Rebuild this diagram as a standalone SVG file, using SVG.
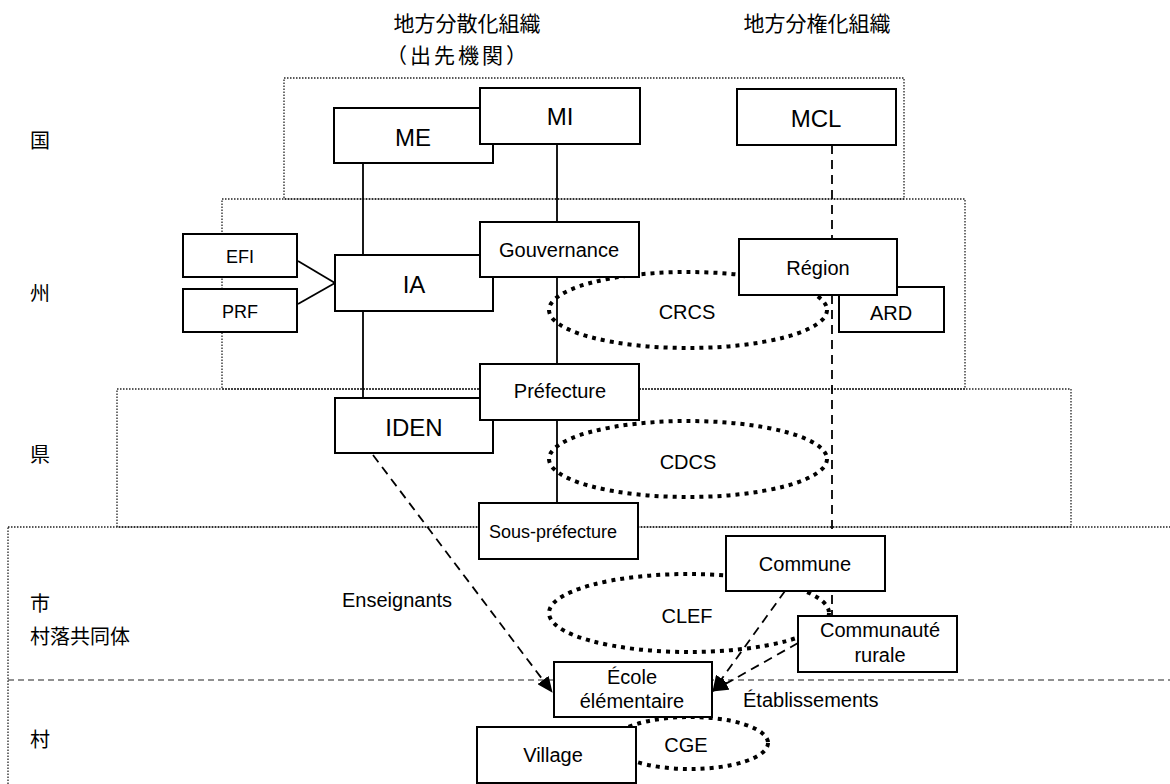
<svg xmlns="http://www.w3.org/2000/svg" width="1170" height="784" viewBox="0 0 1170 784">
<style>
.bg{fill:#fff}
.zone{fill:none;stroke:#222;stroke-width:1.3;stroke-dasharray:1.5 1.5}
.sep{fill:none;stroke:#222;stroke-width:1.2;stroke-dasharray:6 4}
.box{fill:#fff;stroke:#000;stroke-width:2}
.ell{fill:none;stroke:#000;stroke-width:4;stroke-dasharray:4 5}
.line{fill:none;stroke:#000;stroke-width:1.8}
.dash{fill:none;stroke:#000;stroke-width:1.8;stroke-dasharray:9 6}
.t{font-family:"Liberation Sans",Arial,sans-serif;fill:#000;text-anchor:middle}
.l{font-size:24px}
.m{font-size:20px}
.s{font-size:18px}
.jp{font-family:"Noto Sans CJK JP","Noto Sans CJK SC",sans-serif;font-size:20px;fill:#000;dominant-baseline:central}
.hd{font-size:21px;text-anchor:middle}
</style>
<defs>
<marker id="arr" markerUnits="userSpaceOnUse" markerWidth="16" markerHeight="14" refX="15" refY="7" orient="auto">
<path d="M0,0 L16,7 L0,14 Z" fill="#000"/>
</marker>
</defs>
<rect class="bg" x="0" y="0" width="1170" height="784"/>

<g id="zones">
<rect class="zone" x="284" y="78" width="620" height="121"/>
<rect class="zone" x="222" y="199" width="743" height="190"/>
<rect class="zone" x="117" y="389" width="954" height="138"/>
<rect class="zone" x="8" y="527" width="1180" height="300"/>
<line class="sep" x1="8" y1="680" x2="1170" y2="680"/>
</g>

<g id="headers">
<text class="jp hd" x="467" y="22">地方分散化組織</text>
<text class="jp hd" x="458" y="54" letter-spacing="3">（出先機関）</text>
<text class="jp hd" x="817" y="22">地方分権化組織</text>
</g>

<g id="levels">
<text class="jp" x="30" y="139">国</text>
<text class="jp" x="30" y="292">州</text>
<text class="jp" x="30" y="453">県</text>
<text class="jp" x="30" y="602">市</text>
<text class="jp" x="30" y="635">村落共同体</text>
<text class="jp" x="30" y="738">村</text>
</g>

<g id="groups">
<ellipse id="CRCS" class="ell" cx="688" cy="310" rx="139" ry="38"/>
<ellipse id="CDCS" class="ell" cx="688" cy="459" rx="139" ry="38"/>
<ellipse id="CLEF" class="ell" cx="689" cy="613" rx="140" ry="39"/>
<ellipse id="CGE" class="ell" cx="690" cy="743" rx="78" ry="26"/>
</g>

<g id="connectors">
<line class="line" x1="363" y1="163" x2="363" y2="398"/>
<line class="line" x1="557" y1="144" x2="557" y2="503"/>
<line class="line" x1="298" y1="261" x2="335" y2="283"/>
<line class="line" x1="298" y1="304" x2="335" y2="283"/>
<line class="dash" x1="832" y1="145" x2="832" y2="616"/>
<line class="dash" x1="373" y1="455" x2="552" y2="692" marker-end="url(#arr)"/>
<line class="dash" x1="785" y1="591" x2="713" y2="691" marker-end="url(#arr)"/>
<line class="dash" x1="798" y1="643" x2="713" y2="691" marker-end="url(#arr)"/>
</g>

<g id="labels-groups">
<text class="t m" x="687" y="319">CRCS</text>
<text class="t m" x="688" y="469">CDCS</text>
<text class="t m" x="687" y="623">CLEF</text>
<text class="t m" x="686" y="752">CGE</text>
<text class="t m" x="342" y="607" style="text-anchor:start">Enseignants</text>
<text class="t m" x="743" y="707" style="text-anchor:start">Établissements</text>
</g>

<g id="ME"><rect class="box" x="334" y="108" width="159" height="55"/><text class="t l" x="413" y="146">ME</text></g>
<g id="MI"><rect class="box" x="480" y="88" width="160" height="56"/><text class="t l" x="560" y="125">MI</text></g>
<g id="MCL"><rect class="box" x="737" y="89" width="159" height="56"/><text class="t l" x="816" y="127">MCL</text></g>
<g id="EFI"><rect class="box" x="183" y="234" width="114" height="43"/><text class="t s" x="240" y="263">EFI</text></g>
<g id="PRF"><rect class="box" x="183" y="289" width="114" height="43"/><text class="t s" x="240" y="318">PRF</text></g>
<g id="IA"><rect class="box" x="335" y="255" width="158" height="56"/><text class="t l" x="414" y="293">IA</text></g>
<g id="Gouvernance"><rect class="box" x="480" y="222" width="159" height="55"/><text class="t m" x="559" y="257">Gouvernance</text></g>
<g id="ARD"><rect class="box" x="839" y="287" width="105" height="45"/><text class="t m" x="891" y="320">ARD</text></g>
<g id="Region"><rect class="box" x="739" y="239" width="158" height="56"/><text class="t m" x="818" y="275">Région</text></g>
<g id="IDEN"><rect class="box" x="335" y="398" width="158" height="55"/><text class="t l" x="414" y="436">IDEN</text></g>
<g id="Prefecture"><rect class="box" x="480" y="364" width="159" height="56"/><text class="t m" x="560" y="398">Préfecture</text></g>
<g id="SousPrefecture"><rect class="box" x="479" y="503" width="159" height="56"/><text class="t s" x="553" y="538">Sous-préfecture</text></g>
<g id="Commune"><rect class="box" x="726" y="536" width="159" height="55"/><text class="t m" x="805" y="571">Commune</text></g>
<g id="CommunauteRurale"><rect class="box" x="798" y="616" width="159" height="56"/><text class="t m" x="880" y="637">Communauté</text><text class="t m" x="880" y="662">rurale</text></g>
<g id="Ecole"><rect class="box" x="554" y="662" width="158" height="55"/><text class="t m" x="632" y="684">École</text><text class="t m" x="632" y="708">élémentaire</text></g>
<g id="Village"><rect class="box" x="477" y="727" width="159" height="56"/><text class="t m" x="553" y="762">Village</text></g>
</svg>
